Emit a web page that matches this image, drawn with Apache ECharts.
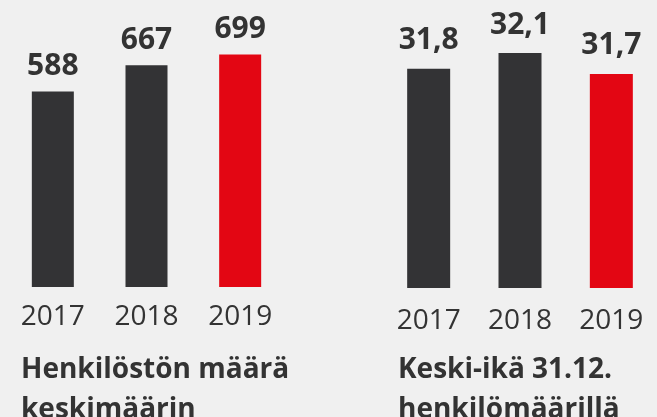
<!DOCTYPE html>
<html>
<head>
<meta charset="utf-8">
<script src="https://cdn.jsdelivr.net/npm/echarts@6/dist/echarts.min.js"></script>
<style>
html,body{margin:0;padding:0;background:#f0f0f0;}
#c{width:657px;height:417px;}
</style>
</head>
<body>
<div id="c"></div>
<script>
var years = ['2017', '2018', '2019'];
var staffCount = [588, 667, 699];
var averageAge = [31.8, 32.1, 31.7];
var titleLeft = 'Henkilöstön määrä\nkeskimäärin';
var titleRight = 'Keski-ikä 31.12.\nhenkilömäärillä';

var DARK = '#333335', RED = '#e30613', TXT = '#333333';
var FONT = '"Open Sans", sans-serif';

function barData(vals) {
  return vals.map(function (v, i) {
    return { value: v, itemStyle: { color: i === vals.length - 1 ? RED : DARK } };
  });
}

var chart = echarts.init(document.getElementById('c'), null, { renderer: 'canvas' });
chart.setOption({
  backgroundColor: '#f0f0f0',
  animation: false,
  textStyle: { fontFamily: FONT },
  title: [
    { text: titleLeft, left: 16, top: 345,
      textStyle: { fontFamily: FONT, fontSize: 28, fontWeight: 'bold', color: TXT, lineHeight: 40 } },
    { text: titleRight, left: 393, top: 345,
      textStyle: { fontFamily: FONT, fontSize: 28, fontWeight: 'bold', color: TXT, lineHeight: 40 } }
  ],
  grid: [
    { left: 6, right: 370, top: 21, bottom: 130 },
    { left: 383, right: -5, top: 6, bottom: 129 }
  ],
  xAxis: [
    { type: 'category', gridIndex: 0, data: years,
      axisLine: { show: false }, axisTick: { show: false },
      axisLabel: { fontFamily: FONT, fontSize: 28, color: TXT, margin: 16 } },
    { type: 'category', gridIndex: 1, data: years,
      axisLine: { show: false }, axisTick: { show: false },
      axisLabel: { fontFamily: FONT, fontSize: 28, color: TXT, margin: 19 } }
  ],
  yAxis: [
    { type: 'value', gridIndex: 0, min: 0, max: 800, show: false, splitLine: { show: false } },
    { type: 'value', gridIndex: 1, min: 27.6, max: 33, show: false, splitLine: { show: false } }
  ],
  series: [
    { type: 'bar', xAxisIndex: 0, yAxisIndex: 0, data: barData(staffCount), barWidth: 42,
      label: { show: true, position: 'top', distance: 10, fontFamily: FONT, fontSize: 30,
        fontWeight: 'bold', color: TXT } },
    { type: 'bar', xAxisIndex: 1, yAxisIndex: 1, data: barData(averageAge), barWidth: 43,
      label: { show: true, position: 'top', distance: 13, fontFamily: FONT, fontSize: 30,
        fontWeight: 'bold', color: TXT,
        formatter: function (p) { return p.value.toFixed(1).replace('.', ','); } } }
  ]
});
</script>
</body>
</html>
